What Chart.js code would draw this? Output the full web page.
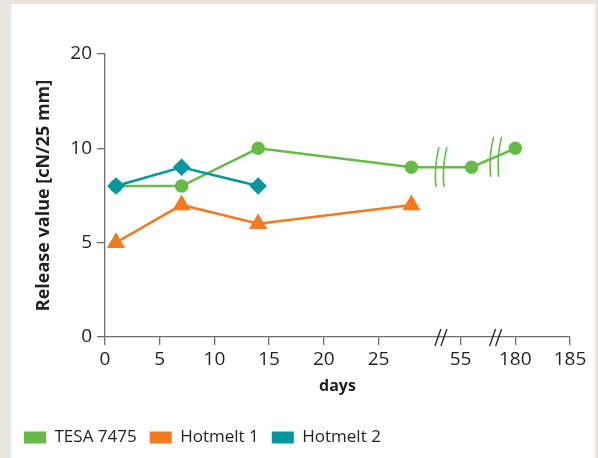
<!DOCTYPE html>
<html lang="en">
<head>
<meta charset="UTF-8">
<title>Release value</title>
<script src="https://cdn.jsdelivr.net/npm/chart.js@4"></script>
<style>
    html, body {
        margin: 0;
        padding: 0;
        background: #e9e5df;
        overflow: hidden;
    }
    .panel {
        position: absolute;
        left: 11px;
        top: 4px;
        width: 584px;
        height: 460px;
        background: #ffffff;
    }
</style>
</head>
<body>
<div class="panel"><canvas id="chart" width="584" height="452"></canvas></div>
<script>
// data
const tesaDays = [1, 7, 14, 28, 56, 180];
const tesaValues = [8, 8, 10, 9, 9, 10];
const hotmelt1Days = [1, 7, 14, 28];
const hotmelt1Values = [5, 7, 6, 7];
const hotmelt2Days = [1, 7, 14];
const hotmelt2Values = [8, 9, 8];

const xTickDays = [0, 5, 10, 15, 20, 25, 55, 180, 185];
const yTickValues = [0, 5, 10, 20];

const GREEN = '#66bb46';
const ORANGE = '#f47a21';
const TEAL = '#00979e';
const AXIS = '#6d6e71';
const TEXT = '#231f20';

// broken x axis: later pieces are pulled left
const xPieces = [
    { from: 0, to: 30, shift: 0 },
    { from: 50, to: 60, shift: 22.5 },
    { from: 175, to: 190, shift: 142.5 }
];
function dayToAxis(d) {
    const p = xPieces.find(p => d >= p.from && d <= p.to);
    return d - p.shift;
}
// y axis: 10..20 squeezed to half
function valueToAxis(v) {
    return v <= 10 ? v : 10 + (v - 10) / 2;
}
function points(days, values) {
    return days.map((d, i) => ({ x: dayToAxis(d), y: valueToAxis(values[i]) }));
}

const xBreaks = [30.7, 35.7];

const breakMarks = {
    id: 'breakMarks',
    afterDatasetsDraw(chart) {
        const ctx = chart.ctx;
        const xs = chart.scales.x;
        const y0 = chart.chartArea.bottom;
        ctx.save();
        ctx.lineWidth = 1.3;
        // "//" on the axis
        ctx.strokeStyle = TEXT;
        xBreaks.forEach(b => {
            const px = xs.getPixelForValue(b);
            [-3, 3].forEach(o => {
                ctx.beginPath();
                ctx.moveTo(px + o - 3, y0 + 9);
                ctx.lineTo(px + o + 3, y0 - 8);
                ctx.stroke();
            });
        });
        // "((" on the TESA line
        const meta = chart.getDatasetMeta(0);
        ctx.strokeStyle = GREEN;
        ctx.lineWidth = 1.6;
        xBreaks.forEach(b => {
            const px = xs.getPixelForValue(b);
            const pts = meta.data;
            let y = null;
            for (let i = 0; i < pts.length - 1; i++) {
                if (pts[i].x <= px && pts[i + 1].x >= px) {
                    const t = (px - pts[i].x) / (pts[i + 1].x - pts[i].x);
                    y = pts[i].y + t * (pts[i + 1].y - pts[i].y);
                }
            }
            if (y === null) return;
            [-4, 4].forEach(o => {
                ctx.beginPath();
                ctx.moveTo(px + o + 2, y - 20);
                ctx.quadraticCurveTo(px + o - 3, y, px + o - 1, y + 20);
                ctx.stroke();
            });
        });
        ctx.restore();
    }
};

new Chart(document.getElementById('chart'), {
    type: 'line',
    data: {
        datasets: [
            {
                label: 'TESA 7475',
                data: points(tesaDays, tesaValues),
                borderColor: GREEN,
                backgroundColor: GREEN,
                borderWidth: 2.5,
                pointStyle: 'circle',
                pointRadius: 5.5,
                order: 2
            },
            {
                label: 'Hotmelt 1',
                data: points(hotmelt1Days, hotmelt1Values),
                borderColor: ORANGE,
                backgroundColor: ORANGE,
                borderWidth: 2.5,
                pointStyle: 'triangle',
                pointRadius: 8,
                order: 1
            },
            {
                label: 'Hotmelt 2',
                data: points(hotmelt2Days, hotmelt2Values),
                borderColor: TEAL,
                backgroundColor: TEAL,
                borderWidth: 2.5,
                pointStyle: 'rectRot',
                pointRadius: 7,
                order: 0
            }
        ]
    },
    options: {
        responsive: false,
        animation: false,
        layout: { padding: { left: 0, top: 50, right: 25, bottom: 0 } },
        plugins: {
            tooltip: { enabled: false },
            legend: {
                position: 'bottom',
                align: 'start',
                labels: {
                    boxWidth: 22,
                    boxHeight: 12,
                    padding: 13,
                    color: TEXT,
                    font: { family: 'Open Sans', size: 17 },
                    sort: (a, b) => a.datasetIndex - b.datasetIndex,
                    generateLabels(chart) {
                        return Chart.defaults.plugins.legend.labels.generateLabels(chart)
                            .map(l => Object.assign(l, { lineWidth: 0 }));
                    }
                }
            }
        },
        scales: {
            x: {
                type: 'linear',
                min: 0,
                max: dayToAxis(185),
                afterBuildTicks(scale) {
                    scale.ticks = xTickDays.map(d => ({ value: dayToAxis(d) }));
                },
                afterFit(scale) { scale.height = 79; },
                ticks: {
                    color: TEXT,
                    padding: 3,
                    maxRotation: 0,
                    font: { family: 'Open Sans', size: 19 },
                    callback: (v, i) => xTickDays[i]
                },
                grid: { drawOnChartArea: false, tickLength: 8, color: AXIS, lineWidth: 1.3 },
                border: { color: AXIS, width: 1.3 },
                title: {
                    display: true,
                    text: 'days',
                    color: TEXT,
                    font: { family: 'Open Sans', size: 16, weight: 'bold' },
                    padding: { top: 0, bottom: 20 }
                }
            },
            y: {
                type: 'linear',
                min: 0,
                max: valueToAxis(20),
                afterBuildTicks(scale) {
                    scale.ticks = yTickValues.map(v => ({ value: valueToAxis(v) }));
                },
                afterFit(scale) { scale.width = 94; },
                ticks: {
                    color: TEXT,
                    padding: 5,
                    font: { family: 'Open Sans', size: 19 },
                    callback: (v, i) => yTickValues[i]
                },
                grid: { drawOnChartArea: false, tickLength: 8, color: AXIS, lineWidth: 1.3 },
                border: { color: AXIS, width: 1.3 },
                title: {
                    display: true,
                    text: 'Release value [cN/25 mm]',
                    color: TEXT,
                    font: { family: 'Open Sans', size: 18, weight: 'bold' },
                    padding: { top: 22, bottom: 0 }
                }
            }
        }
    },
    plugins: [breakMarks]
});
</script>
</body>
</html>
